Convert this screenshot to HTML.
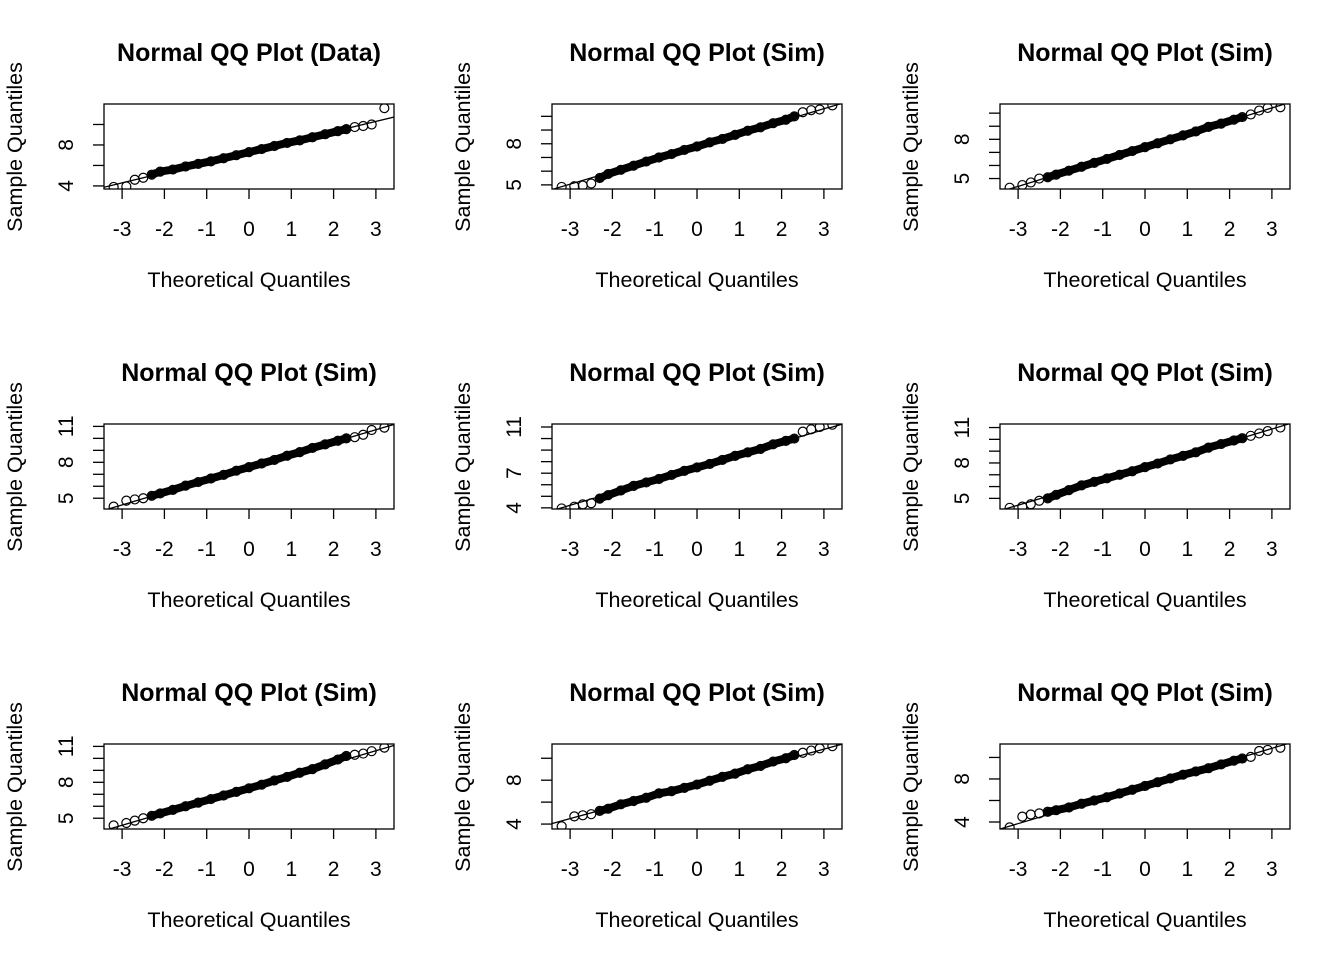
<!DOCTYPE html>
<html><head><meta charset="utf-8">
<style>
html,body{margin:0;padding:0;background:#fff;}
svg{display:block;font-family:"Liberation Sans",Arial,sans-serif;}
</style></head>
<body>
<svg id="c" width="1344" height="960" viewBox="0 0 1344 960"></svg>
<script>
const theoQ = [-3.2,-2.9,-2.7,-2.5,-2.3,-2.1,-1.8,-1.5,-1.2,-0.9,-0.6,-0.3,0,0.3,0.6,0.9,1.2,1.5,1.8,2.1,2.3,2.5,2.7,2.9,3.2];
const xTicks = [-3,-2,-1,0,1,2,3];
const titles = ["Normal QQ Plot (Data)","Normal QQ Plot (Sim)","Normal QQ Plot (Sim)","Normal QQ Plot (Sim)","Normal QQ Plot (Sim)","Normal QQ Plot (Sim)","Normal QQ Plot (Sim)","Normal QQ Plot (Sim)","Normal QQ Plot (Sim)"];
const s1 = [3.9,3.95,4.6,4.8,5.1,5.4,5.6,5.9,6.15,6.4,6.7,7.0,7.3,7.6,7.9,8.2,8.45,8.75,9.05,9.35,9.55,9.75,9.85,10.0,11.6];
const s2 = [4.85,4.9,4.95,5.1,5.5,5.8,6.1,6.4,6.7,7.0,7.25,7.55,7.8,8.1,8.35,8.65,8.95,9.2,9.5,9.75,10.0,10.3,10.45,10.5,10.8];
const s3 = [4.3,4.5,4.7,5.0,5.1,5.3,5.6,5.9,6.2,6.5,6.8,7.1,7.4,7.7,8.0,8.3,8.6,8.95,9.2,9.5,9.7,9.9,10.2,10.4,10.45];
const s4 = [4.3,4.8,4.9,5.0,5.2,5.4,5.7,6.05,6.35,6.65,6.95,7.3,7.6,7.9,8.2,8.55,8.85,9.2,9.5,9.8,10.0,10.1,10.3,10.7,10.9];
const s5 = [3.95,4.1,4.3,4.4,4.8,5.1,5.5,5.9,6.2,6.5,6.85,7.2,7.5,7.8,8.15,8.5,8.8,9.1,9.5,9.8,10.0,10.6,10.8,11.0,11.2];
const s6 = [4.2,4.3,4.5,4.8,5.0,5.3,5.7,6.1,6.4,6.7,7.0,7.3,7.65,7.95,8.3,8.6,8.9,9.3,9.6,9.9,10.1,10.3,10.5,10.7,11.0];
const s7 = [4.4,4.6,4.8,5.0,5.2,5.4,5.7,6.0,6.3,6.6,6.9,7.2,7.5,7.8,8.15,8.45,8.8,9.1,9.5,9.9,10.2,10.3,10.4,10.6,10.9];
const s8 = [3.8,4.7,4.8,4.9,5.2,5.4,5.8,6.1,6.4,6.8,7.0,7.3,7.6,7.95,8.3,8.6,9.0,9.3,9.7,10.0,10.3,10.5,10.7,10.9,11.1];
const s9 = [3.5,4.5,4.7,4.8,4.95,5.1,5.35,5.7,6.0,6.3,6.65,7.0,7.35,7.7,8.05,8.4,8.7,9.0,9.35,9.7,9.9,10.05,10.6,10.7,10.9];
const samples = [s1,s2,s3,s4,s5,s6,s7,s8,s9];
const yLims = [[3.7,12.0],[4.7,10.9],[4.2,10.7],[4.1,11.2],[3.9,11.26],[4.1,11.3],[4.1,11.2],[3.55,11.3],[3.35,11.25]];
const yTicks = [[4,6,8,10],[5,6,7,8,9,10],[5,6,7,8,9,10],[5,6,7,8,9,10,11],[4,5,6,7,8,9,10,11],[5,6,7,8,9,10,11],[5,6,7,8,9,10,11],[4,6,8,10],[4,6,8,10]];
const yLabels = [[4,8],[5,8],[5,8],[5,8,11],[4,7,11],[5,8,11],[5,8,11],[4,8],[4,8]];

const NS="http://www.w3.org/2000/svg";
const svg=document.getElementById('c');
function mk(tag,attrs,parent,text){const e=document.createElementNS(NS,tag);for(const k in attrs)e.setAttribute(k,attrs[k]);if(text!==undefined)e.textContent=text;parent.appendChild(e);return e;}
function interp(q){
  return arr=>{for(let i=0;i<theoQ.length-1;i++){if(q>=theoQ[i]&&q<=theoQ[i+1]){const t=(q-theoQ[i])/(theoQ[i+1]-theoQ[i]);return arr[i]+t*(arr[i+1]-arr[i]);}}return arr[0];};
}
const colX=[104,552,1000], rowY=[104,424,744], W=290, H=85;
for(let p=0;p<9;p++){
  const bx=colX[p%3], by=rowY[Math.floor(p/3)];
  const g=mk('g',{},svg);
  
  
  const xs=q=>bx+145+(q)*42.3;
  const [y0,y1]=yLims[p];
  const ys=v=>by+H-(v-y0)/(y1-y0)*H;
  const cx=bx+145;
  const t=mk('text',{x:cx,y:by-43,'text-anchor':'middle','font-size':'25','font-weight':'bold'},g,titles[p]);
  
  
  const xt=mk('text',{x:cx,y:by+183,'text-anchor':'middle','font-size':'21.5'},g,'Theoretical Quantiles');
  
  
  const yt=mk('text',{x:0,y:0,'text-anchor':'middle','font-size':'21.5',transform:`translate(${bx-82},${by+43}) rotate(-90)`},g,'Sample Quantiles');
  
  
  const cid='clip'+p;
  const cp=mk('clipPath',{id:cid},g);mk('rect',{x:bx,y:by,width:W,height:H},cp);
  const pg=mk('g',{'clip-path':`url(#${cid})`},g);
  let pts=[];for(let i=4;i<=20;i++)pts.push(xs(theoQ[i])+','+ys(samples[p][i]));
  const band=mk('polyline',{points:pts.join(' '),fill:'none',stroke:'#000','stroke-width':'8','stroke-linecap':'round'},pg);
  
  
  const qa=interp(-0.6745)(samples[p]), qb=interp(0.6745)(samples[p]);
  const slope=(qb-qa)/1.349, inter=(qa+qb)/2;
  const ln=mk('line',{x1:xs(-4),y1:ys(inter-4*slope),x2:xs(4),y2:ys(inter+4*slope),stroke:'#000','stroke-width':'1.3'},pg);
  
  
  for(let i=0;i<theoQ.length;i++){
    const c=mk('circle',{cx:xs(theoQ[i]),cy:ys(samples[p][i]),r:4.5,fill:'none',stroke:'#000','stroke-width':'1.2'},pg);
    
    
  }
  const box=mk('rect',{x:bx,y:by,width:W,height:H,fill:'none',stroke:'#000','stroke-width':'1.3'},g);
  
  
  xTicks.forEach(v=>{
    mk('line',{x1:xs(v),y1:by+H,x2:xs(v),y2:by+H+10,stroke:'#000','stroke-width':'1.3'},g);
    const l=mk('text',{x:xs(v),y:by+H+47,'text-anchor':'middle','font-size':'21'},g,v<0?'-'+Math.abs(v):String(v));
    
    
  });
  yTicks[p].forEach(v=>{mk('line',{x1:bx,y1:ys(v),x2:bx-11,y2:ys(v),stroke:'#000','stroke-width':'1.3'},g);});
  yLabels[p].forEach(v=>{
    const l=mk('text',{x:0,y:0,'text-anchor':'middle','font-size':'21',transform:`translate(${bx-31},${ys(v)}) rotate(-90)`},g,String(v));
    
    
  });
}
</script>
</body></html>
